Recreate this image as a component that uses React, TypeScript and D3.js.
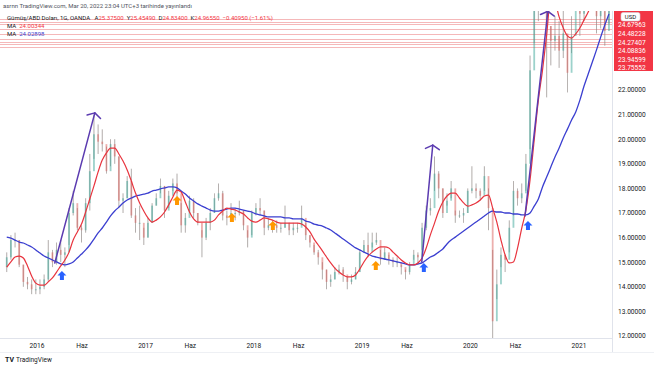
import React from 'react';
import * as d3 from 'd3';

// biweekly candles, first one on 2015-09-21
const candleStart = new Date(2015, 8, 21);
const candleStepDays = 14;
const firstOpen = 14.8;

const closes = [
  15.2, 15.9, 15.9, 14.9, 14.2, 14.1, 13.9, 13.9, 14.0, 14.3,
  15.4, 15.0, 15.5, 15.3, 15.4, 17.0, 17.4, 16.4, 16.3, 17.4,
  18.7, 20.2, 19.9, 19.8, 18.7, 19.8, 19.3, 17.5, 17.6, 18.3,
  16.9, 16.6, 16.6, 16.0, 16.6, 17.3, 17.6, 18.1, 17.1, 17.7,
  18.2, 17.8, 16.5, 16.8, 17.5, 17.0, 16.6, 16.0, 16.6, 17.0,
  17.6, 17.8, 16.9, 16.8, 17.0, 17.0, 17.1, 16.5, 16.0, 17.0,
  17.2, 17.1, 16.4, 16.5, 16.5, 16.4, 16.4, 16.6, 16.3, 16.4,
  16.4, 16.8, 16.1, 15.8, 15.4, 15.2, 14.7, 14.2, 14.3, 14.6,
  14.7, 14.5, 14.2, 14.3, 14.6, 15.4, 15.7, 15.4, 15.8, 15.9,
  15.1, 15.4, 15.1, 15.0, 15.0, 14.8, 14.6, 14.9, 15.3, 15.2,
  16.4, 17.1, 17.2, 18.6, 18.0, 17.0, 17.5, 18.0, 16.9, 16.9,
  17.0, 17.9, 18.0, 17.9, 17.7, 18.5, 17.2, 12.6, 14.1, 15.3,
  15.1, 16.4, 17.9, 17.6, 17.8, 19.0, 22.8, 28.3, 26.8, 26.9,
  24.6, 24.0, 24.2, 23.6, 24.3, 22.7, 24.2, 26.3, 25.1, 25.6,
  26.7, 27.4, 25.0, 25.4, 24.4, 25.8,
];
const highs = [
  15.4, 16.1, 16.2, 15.9, 14.9, 14.4, 14.3, 14.3, 14.3, 14.5,
  15.9, 15.5, 15.8, 15.9, 15.6, 17.2, 17.9, 17.2, 16.5, 17.6,
  19.4, 21.0, 20.6, 20.4, 19.7, 20.0, 20.0, 19.3, 17.8, 18.5,
  18.8, 17.2, 17.3, 16.4, 16.8, 17.4, 17.8, 18.4, 18.1, 17.9,
  18.4, 18.6, 17.4, 17.0, 17.7, 17.6, 17.0, 16.3, 16.8, 17.2,
  17.8, 18.2, 17.9, 17.1, 17.4, 17.2, 17.5, 17.1, 16.3, 17.1,
  17.4, 17.6, 17.1, 16.8, 16.7, 16.7, 16.6, 17.3, 16.6, 16.6,
  16.6, 17.3, 16.6, 16.1, 15.7, 15.5, 15.0, 14.7, 14.5, 14.8,
  14.9, 14.8, 14.4, 14.5, 14.8, 15.5, 15.9, 16.2, 16.2, 16.2,
  15.5, 15.6, 15.3, 15.2, 15.2, 14.9, 14.7, 15.0, 15.5, 15.4,
  16.6, 17.3, 17.6, 19.3, 18.7, 18.0, 17.8, 18.3, 17.1, 17.1,
  17.2, 18.0, 18.9, 18.2, 18.0, 18.9, 18.0, 15.5, 14.7, 15.6,
  15.3, 16.7, 18.3, 18.0, 18.2, 19.4, 23.4, 29.8, 28.0, 28.5,
  27.2, 24.6, 25.0, 24.8, 26.0, 24.2, 25.0, 26.9, 27.9, 26.3,
  30.1, 28.2, 26.8, 26.6, 25.2, 26.1,
];
const lows = [
  14.6, 15.1, 15.6, 14.8, 14.0, 13.9, 13.7, 13.7, 13.7, 13.9,
  14.2, 14.8, 14.9, 15.0, 14.8, 15.7, 16.9, 16.3, 15.8, 16.2,
  17.1, 19.2, 19.4, 19.5, 18.6, 18.9, 19.0, 17.2, 17.0, 17.6,
  16.8, 16.2, 15.9, 15.7, 16.0, 16.6, 17.3, 17.8, 16.8, 17.2,
  17.9, 17.6, 16.2, 16.2, 17.0, 16.8, 16.5, 15.2, 15.9, 16.3,
  17.0, 17.5, 16.7, 16.5, 16.8, 16.7, 16.9, 16.3, 15.6, 16.1,
  16.9, 16.9, 16.1, 16.3, 16.2, 16.2, 16.2, 16.4, 16.1, 16.1,
  16.2, 16.5, 15.9, 15.6, 15.3, 14.9, 14.3, 13.9, 14.0, 14.3,
  14.5, 14.2, 13.9, 14.1, 14.3, 14.6, 15.4, 15.2, 15.6, 15.7,
  14.9, 15.1, 14.9, 14.8, 14.8, 14.5, 14.3, 14.5, 15.1, 14.9,
  15.5, 16.3, 16.9, 17.9, 17.6, 16.8, 17.3, 17.6, 16.6, 16.8,
  16.6, 17.0, 17.8, 17.6, 17.5, 17.9, 16.3, 11.9, 13.5, 14.8,
  14.6, 15.4, 16.9, 17.3, 17.4, 17.9, 19.6, 23.9, 24.8, 26.3,
  21.7, 23.0, 23.6, 22.9, 23.3, 21.9, 23.5, 25.4, 24.2, 24.8,
  26.0, 26.5, 24.3, 24.5, 23.8, 24.7,
];

// moving averages read at the candle dates
const maRed = [
  14.80, 15.01, 15.21, 15.25, 15.17, 14.85, 14.44, 14.15, 14.07, 14.07,
  14.20, 14.36, 14.60, 14.85, 15.09, 15.41, 15.90, 16.23, 16.55, 17.04,
  17.57, 18.10, 18.67, 19.15, 19.44, 19.64, 19.64, 19.40, 19.11, 18.75,
  18.30, 17.81, 17.41, 17.08, 16.80, 16.63, 16.71, 16.84, 17.04, 17.33,
  17.65, 17.93, 17.85, 17.45, 17.04, 16.76, 16.63, 16.63, 16.63, 16.63,
  16.71, 16.92, 17.08, 17.20, 17.16, 17.12, 17.04, 16.96, 16.80, 16.67,
  16.63, 16.71, 16.80, 16.76, 16.71, 16.63, 16.59, 16.59, 16.59, 16.59,
  16.59, 16.55, 16.43, 16.23, 15.94, 15.70, 15.46, 15.21, 14.97, 14.76,
  14.60, 14.48, 14.40, 14.40, 14.48, 14.72, 15.01, 15.25, 15.41, 15.54,
  15.62, 15.62, 15.58, 15.41, 15.25, 15.09, 14.97, 14.89, 14.89, 14.97,
  15.17, 15.58, 16.11, 16.59, 17.08, 17.45, 17.69, 17.81, 17.81, 17.61,
  17.41, 17.28, 17.33, 17.41, 17.53, 17.69, 17.73, 17.20, 16.63, 15.90,
  15.29, 14.97, 15.01, 15.58, 16.39, 17.12, 18.34, 19.97, 21.59, 22.81,
  24.24, 25.80, 25.60, 24.97, 24.52, 24.20, 24.11, 24.28, 24.52, 24.85,
  25.17, 25.60, 25.90, 25.70, 25.50, 25.40,
];
const maBlue = [
  16.02, 15.98, 15.90, 15.82, 15.78, 15.70, 15.62, 15.50, 15.37, 15.25,
  15.17, 15.09, 15.01, 14.93, 14.89, 14.93, 15.01, 15.17, 15.33, 15.50,
  15.70, 15.94, 16.19, 16.39, 16.63, 16.88, 17.08, 17.24, 17.41, 17.53,
  17.61, 17.69, 17.73, 17.77, 17.81, 17.89, 17.93, 17.98, 18.02, 18.06,
  18.06, 18.02, 17.89, 17.77, 17.61, 17.49, 17.37, 17.28, 17.20, 17.12,
  17.08, 17.08, 17.12, 17.16, 17.20, 17.20, 17.16, 17.12, 17.08, 17.04,
  16.96, 16.92, 16.88, 16.84, 16.84, 16.84, 16.84, 16.80, 16.80, 16.76,
  16.76, 16.76, 16.67, 16.63, 16.55, 16.51, 16.47, 16.39, 16.31, 16.19,
  16.07, 15.94, 15.82, 15.70, 15.58, 15.50, 15.41, 15.33, 15.25, 15.21,
  15.17, 15.13, 15.09, 15.05, 15.01, 14.97, 14.93, 14.89, 14.89, 14.93,
  14.97, 15.09, 15.21, 15.29, 15.41, 15.54, 15.74, 15.90, 16.02, 16.15,
  16.27, 16.39, 16.51, 16.63, 16.76, 16.88, 17.00, 17.08, 17.04, 17.04,
  17.00, 17.00, 16.96, 16.96, 16.92, 16.92, 17.00, 17.28, 17.57, 18.06,
  18.46, 18.87, 19.28, 19.64, 20.05, 20.41, 20.78, 21.11, 21.59, 22.16,
  22.65, 23.14, 23.63, 24.15, 24.64, 25.09,
];

const yTicks = [12, 13, 14, 15, 16, 17, 18, 19, 20, 21, 22];
const xTickDates = ['2016-01-01', '2016-06-01', '2017-01-01', '2017-06-01', '2018-01-01', '2018-06-01',
  '2019-01-01', '2019-06-01', '2020-01-01', '2020-06-01', '2021-01-01'];
const xTickLabels = ['2016', 'Haz', '2017', 'Haz', '2018', 'Haz', '2019', 'Haz', '2020', 'Haz', '2021'];

// horizontal price lines and the labels visible on the axis (top one sits under the USD badge)
const priceLevels = [24.87, 24.78, 24.68, 24.48, 24.27, 24.09, 23.95, 23.86, 23.76];
const priceLabels = ['24.67963', '24.48228', '24.27407', '24.08836', '23.94599', '23.75552'];

// drawn trend lines with arrow heads
const trendFromDates = ['2016-03-01', '2019-07-21', '2020-07-03'];
const trendFromPrices = [14.97, 15.01, 16.88];
const trendToDates = ['2016-07-14', '2019-08-27', '2020-09-18'];
const trendToPrices = [21.07, 19.76, 25.2];

const blueArrowDates = ['2016-03-25', '2019-07-28', '2020-07-13'];
const blueArrowPrices = [14.64, 14.97, 16.67];
const orangeArrowDates = ['2017-04-17', '2017-10-19', '2018-03-06', '2019-02-16'];
const orangeArrowPrices = [17.69, 17.0, 16.67, 15.05];

const W = 654;
const H = 366;
const plot = { left: 0, right: 612, top: 11, bottom: 338 };
const FONT = 'Roboto, "Liberation Sans", Arial, sans-serif';

const UP = '#3aa597';
const DOWN = '#d9605c';
const MA_RED = '#e8343e';
const MA_BLUE = '#3b3fd0';
const TREND = '#5b3bb0';

const parse = d3.timeParse('%Y-%m-%d');

export default function App() {
  const x = d3.scaleTime()
    .domain([new Date(2016, 0, 1), new Date(2021, 0, 1)])
    .range([37, 579]);
  const y = d3.scaleLinear().domain([12, 22]).range([336, 90]);

  const dates = closes.map((_, i) => d3.timeDay.offset(candleStart, i * candleStepDays));
  const candles = closes.map((c, i) => ({
    date: dates[i],
    open: i === 0 ? firstOpen : closes[i - 1],
    close: c,
    high: highs[i],
    low: lows[i],
  }));

  const maLine = d3.line<number>()
    .x((_, i) => x(dates[i]))
    .y(d => y(d))
    .curve(d3.curveMonotoneX);

  const bodyW = 1.8;

  const upArrow = 'M0,0 L4.5,4.5 L2,4.5 L2,9 L-2,9 L-2,4.5 L-4.5,4.5 Z';

  const trends = trendFromDates.map((d, i) => {
    const x1 = x(parse(d)!);
    const y1 = y(trendFromPrices[i]);
    const x2 = x(parse(trendToDates[i])!);
    const y2 = y(trendToPrices[i]);
    const ang = Math.atan2(y1 - y2, x1 - x2);
    const len = 8;
    const a1 = ang + Math.PI / 3;
    const a2 = ang - Math.PI / 3;
    const head = `M${x2 + Math.cos(a1) * len},${y2 + Math.sin(a1) * len} L${x2},${y2} L${x2 + Math.cos(a2) * len},${y2 + Math.sin(a2) * len}`;
    return { x1, y1, x2, y2, head };
  });

  return (
    <div style={{ position: 'fixed', left: 0, top: 0, width: W, height: H, background: '#fff' }}>
      <svg width={W} height={H} style={{ display: 'block', fontFamily: FONT }}>
        <defs>
          <clipPath id="plotClip">
            <rect x={plot.left} y={plot.top} width={plot.right - plot.left} height={plot.bottom - plot.top} />
          </clipPath>
        </defs>
        <rect width={W} height={H} fill="#fff" />

        {/* axis separators */}
        <line x1={plot.right + 0.5} x2={plot.right + 0.5} y1={plot.top} y2={352} stroke="#e0e3eb" />
        <line x1={0} x2={plot.right} y1={plot.bottom + 0.5} y2={plot.bottom + 0.5} stroke="#e0e3eb" />
        <line x1={0} x2={W} y1={352.5} y2={352.5} stroke="#eef0f4" />

        <g clipPath="url(#plotClip)">
          {priceLevels.map((p, i) => (
            <line key={i} x1={plot.left} x2={plot.right} y1={Math.round(y(p)) + 0.5} y2={Math.round(y(p)) + 0.5}
              stroke="#f5b8b9" strokeWidth={1} />
          ))}

          {candles.map((c, i) => {
            const cx = x(c.date);
            const col = c.close >= c.open ? UP : DOWN;
            const top = y(Math.max(c.open, c.close));
            const bot = y(Math.min(c.open, c.close));
            return (
              <g key={i}>
                <line x1={cx} x2={cx} y1={y(c.high)} y2={y(c.low)} stroke="#8e8684" strokeWidth={0.8} opacity={0.85} />
                <rect x={cx - bodyW / 2} y={top} width={bodyW} height={Math.max(1, bot - top)} fill={col} opacity={0.5} />
              </g>
            );
          })}

          <path d={maLine(maBlue) || ''} fill="none" stroke={MA_BLUE} strokeWidth={1.3} />
          <path d={maLine(maRed) || ''} fill="none" stroke={MA_RED} strokeWidth={1.2} />

          {trends.map((t, i) => (
            <g key={i} stroke={TREND} strokeWidth={1.5} fill="none" strokeLinecap="round" strokeLinejoin="round">
              <line x1={t.x1} y1={t.y1} x2={t.x2} y2={t.y2} />
              <path d={t.head} />
            </g>
          ))}

          {blueArrowDates.map((d, i) => (
            <path key={'b' + i} d={upArrow} fill="#2962ff"
              transform={`translate(${x(parse(d)!)},${y(blueArrowPrices[i])})`} />
          ))}
          {orangeArrowDates.map((d, i) => (
            <path key={'o' + i} d={upArrow} fill="#ff9800"
              transform={`translate(${x(parse(d)!)},${y(orangeArrowPrices[i])})`} />
          ))}
        </g>

        {/* price axis */}
        {yTicks.map(t => (
          <text key={t} x={618} y={y(t)} dy="0.35em" fontSize={6.6} fill="#131722">
            {t.toFixed(5)}
          </text>
        ))}
        <rect x={614} y={11} width={39} height={60} fill="#f23645" />
        {priceLabels.map((l, i) => (
          <text key={i} x={618} y={25.1 + i * 8.6} dy="0.35em" fontSize={6.6} fill="#fff">{l}</text>
        ))}
        <rect x={621} y={12.5} width={19} height={8.5} rx={2} fill="#fff" stroke="#d1d4dc" strokeWidth={0.6} />
        <text x={630.5} y={16.8} dy="0.35em" textAnchor="middle" fontSize={6} fill="#131722">USD</text>

        {/* time axis */}
        {xTickDates.map((d, i) => (
          <text key={d} x={x(parse(d)!)} y={346} dy="0.35em" textAnchor="middle" fontSize={6.6} fill="#131722">
            {xTickLabels[i]}
          </text>
        ))}

        {/* header and legend */}
        <text x={3} y={8} fontSize={6} fill="#50535e">
          asrnn TradingView.com, Mar 20, 2022 23:04 UTC+3 tarihinde yayınlandı
        </text>
        <text x={7} y={19.5} fontSize={6} fill="#131722">
          <tspan>Gümüş/ABD Doları, 1G, OANDA  </tspan>
          <tspan dx={3}>A</tspan><tspan fill="#f23645">25.37500</tspan>
          <tspan dx={3}>Y</tspan><tspan fill="#f23645">25.45490</tspan>
          <tspan dx={3}>D</tspan><tspan fill="#f23645">24.83400</tspan>
          <tspan dx={3}>K</tspan><tspan fill="#f23645">24.96550</tspan>
          <tspan dx={3} fill="#f23645">−0.40950 (−1.61%)</tspan>
        </text>
        <text x={7} y={27.5} fontSize={6} fill="#131722">
          <tspan>MA</tspan><tspan dx={3} fill="#f23645">24.00344</tspan>
        </text>
        <text x={7} y={35.5} fontSize={6} fill="#131722">
          <tspan>MA</tspan><tspan dx={3} fill={MA_BLUE}>24.02898</tspan>
        </text>

        {/* footer logo */}
        <text x={5} y={362} fontSize={7} fontWeight="bold" fill="#131722">TV</text>
        <text x={16} y={362} fontSize={6.5} fill="#131722">TradingView</text>
      </svg>
    </div>
  );
}
